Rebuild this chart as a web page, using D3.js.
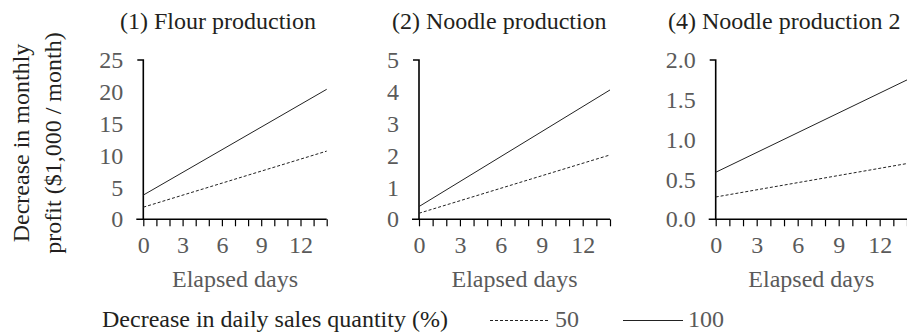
<!DOCTYPE html>
<html><head><meta charset="utf-8">
<script src="https://cdn.jsdelivr.net/npm/d3@7"></script>
<style>body{margin:0;background:#fff}svg{display:block;font-family:"Liberation Serif","Times New Roman",serif}text{font-family:"Liberation Serif","Times New Roman",serif}</style>
</head><body><svg id="c" width="907" height="336"></svg>
<script>
const titles = ["(1) Flour production", "(2) Noodle production", "(4) Noodle production 2"];
const days = [0, 14];
const s50 = [[1.9, 10.7], [0.19, 2.02], [0.28, 0.70]];
const s100 = [[3.8, 20.4], [0.40, 4.06], [0.59, 1.75]];
const yMax = [25, 5, 2];
const yTicks = [[0,5,10,15,20,25],[0,1,2,3,4,5],[0,0.5,1,1.5,2]];
const yFmt = [d3.format("d"), d3.format("d"), d3.format(".1f")];
const xTickLabels = [0, 3, 6, 9, 12];
const xTitle = "Elapsed days";
const yTitle = ["Decrease in monthly", "profit ($1,000 / month)"];
const legendTitle = "Decrease in daily sales quantity (%)";
const legendLabels = ["50", "100"];

(function () {
const svg = d3.select("#c");
const lefts = [143.3, 419, 715.7], widths = [183.4, 191, 191.3];
const titleX = [120, 392, 668];
const plotTop = 60, plotBottom = 219.3;
const grey = "#5a5a5a", dark = "#231f20";
const fs = 24;
const ff = '"Liberation Serif","Times New Roman",serif';

titles.forEach((t, i) => {
  const g = svg.append("g");
  const x = d3.scaleLinear().domain([0, 14]).range([lefts[i], lefts[i] + widths[i]]);
  const y = d3.scaleLinear().domain([0, yMax[i]]).range([plotBottom, plotTop]);
  const xa = g.append("g").attr("transform", `translate(0,${plotBottom})`)
    .call(d3.axisBottom(x).tickValues(d3.range(0, 15)).tickSize(7).tickPadding(10).tickFormat(d => xTickLabels.includes(d) ? d : ""));
  xa.attr("font-family", null).attr("font-size", null);
  xa.select(".domain").attr("d", `M${lefts[i]-7},0H${lefts[i]+widths[i]}`).attr("stroke", "#000").attr("stroke-width", 1.6);
  xa.selectAll(".tick line").attr("stroke", "#000").attr("stroke-width", 1.2);
  xa.selectAll(".tick text").style("font-size", fs + "px").style("font-family", ff).attr("fill", grey);
  const ya = g.append("g").attr("transform", `translate(${lefts[i]},0)`)
    .call(d3.axisLeft(y).tickValues(yTicks[i]).tickSize(0).tickPadding(20).tickFormat(yFmt[i]));
  ya.attr("font-family", null).attr("font-size", null);
  ya.select(".domain").attr("d", `M-6,${plotTop}H0V${plotBottom}`).attr("stroke", "#000").attr("stroke-width", 1.6);
  ya.selectAll(".tick text").style("font-size", fs + "px").style("font-family", ff).attr("fill", grey);
  const line = d3.line().x((d, j) => x(days[j])).y(d => y(d));
  g.append("path").attr("d", line(s50[i])).attr("fill", "none").attr("stroke", "#222").attr("stroke-width", 1).attr("stroke-dasharray", "3,2");
  g.append("path").attr("d", line(s100[i])).attr("fill", "none").attr("stroke", "#222").attr("stroke-width", 1);
  g.append("text").attr("x", titleX[i]).attr("y", 29).style("font-size", fs + "px").attr("fill", dark).text(t);
  g.append("text").attr("x", lefts[i] + widths[i] / 2).attr("y", 287).attr("text-anchor", "middle").style("font-size", fs + "px").attr("fill", grey).text(xTitle);
});

svg.append("text").attr("transform", "translate(29,143) rotate(-90)").attr("text-anchor", "middle").style("font-size", fs + "px").attr("fill", dark).text(yTitle[0]);
svg.append("text").attr("transform", "translate(61,143) rotate(-90)").attr("text-anchor", "middle").style("font-size", fs + "px").attr("fill", dark).text(yTitle[1]);

svg.append("text").attr("x", 102).attr("y", 326.5).style("font-size", fs + "px").attr("fill", dark).text(legendTitle);
const lx = d3.scaleOrdinal().domain(legendLabels).range([490, 623]);
legendLabels.forEach((l, k) => {
  const x0 = lx(l);
  svg.append("line").attr("x1", x0).attr("x2", x0 + 60).attr("y1", 320.5).attr("y2", 320.5).attr("stroke", "#222").attr("stroke-width", 1).attr("stroke-dasharray", k === 0 ? "3,2" : null);
  svg.append("text").attr("x", x0 + 65).attr("y", 326.5).style("font-size", fs + "px").attr("fill", grey).text(l);
});
})();
</script></body></html>
